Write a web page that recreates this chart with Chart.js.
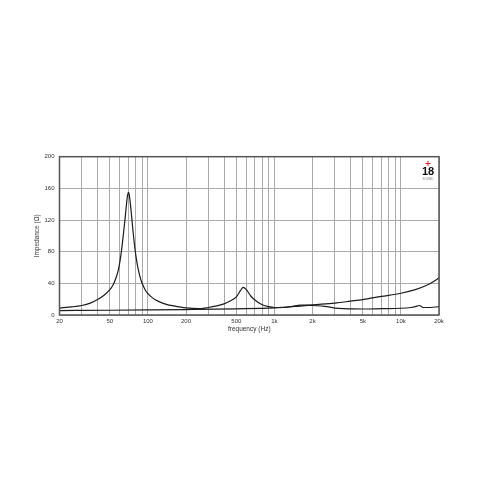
<!DOCTYPE html>
<html>
<head>
<meta charset="utf-8">
<style>
  html, body { margin: 0; padding: 0; background: #fff; }
  #wrap { width: 484px; height: 484px; }
</style>
<script src="https://cdn.jsdelivr.net/npm/chart.js@4/dist/chart.umd.min.js"></script>
</head>
<body>
<div id="wrap"><canvas id="c" width="484" height="484"></canvas></div>
<script>
// ---- data ----
const freqA = [20,25,30,35,40,45,50,53,56,58,60,62,64,66,68,69,70,71,72,74,76,78,80,83,86,89,95,100,110,120,140,160,200,250,300,350,400,450,500,540,566,600,650,700,800,900,1000,1200,1400,1600,1800,2000,2500,3000,3500,4000,5000,7000,10000,12000,13000,14000,15000,17000,20000];
const zA    = [8.8,10.2,12,15,19.5,25,32,38,47,55,67,83,102,122,143,151,155,153,146,128,108,91,77,61,50,42,32,27,21,17.5,13.5,11.5,9,8,9.5,11.5,14,18,23,31,35,32,24,19,13,10.5,9.5,9.5,11,12.5,12.5,12,11,8.8,8,7.8,7.6,8,8.5,9.5,10.5,12,9.5,9.5,10.5];
const freqB = [20,50,100,200,500,1000,1500,2000,3000,4000,5000,7000,10000,13000,16000,18000,20000];
const zB    = [5.6,6.0,6.4,6.9,7.8,9,11,12.8,15,17.5,19.5,23.5,27.5,32,37.5,42,47];
const gridFreqs = [20,30,40,50,60,70,80,90,100,200,300,400,500,600,700,800,900,1000,2000,3000,4000,5000,6000,7000,8000,9000,10000,20000];
const labelFreqs = {20:'20',50:'50',100:'100',200:'200',500:'500',1000:'1k',2000:'2k',5000:'5k',10000:'10k',20000:'20k'};
const yTicks = [0,40,80,120,160,200];

const ptsA = freqA.map((f,i)=>({x:f,y:zA[i]}));
const ptsB = freqB.map((f,i)=>({x:f,y:zB[i]}));

const FONT = '"Liberation Sans", Arial, sans-serif';

const frame = {
  id: 'frame',
  afterDraw(chart) {
    const {ctx, chartArea:a} = chart;
    ctx.save();
    ctx.strokeStyle = '#555';
    ctx.lineWidth = 1.5;
    ctx.strokeRect(a.left, a.top, a.right - a.left, a.bottom - a.top);
    // logo
    const cx = 428;
    ctx.fillStyle = '#d22';
    ctx.fillRect(cx - 2.5, 163, 5, 1);
    ctx.fillRect(cx - 0.5, 161, 1, 5);
    ctx.fillStyle = '#111';
    ctx.font = 'bold 11px "Liberation Sans Narrow", ' + FONT;
    ctx.textAlign = 'center';
    ctx.textBaseline = 'alphabetic';
    ctx.fillText('18', cx, 175);
    ctx.fillStyle = '#777';
    ctx.font = '3px ' + FONT;
    ctx.fillText('SOUND', cx, 179.5);
    ctx.restore();
  }
};

new Chart(document.getElementById('c'), {
  type: 'line',
  data: {
    datasets: [
      { data: ptsA, borderColor: '#1c1c1c', borderWidth: 1.2, pointRadius: 0, cubicInterpolationMode: 'monotone', fill: false },
      { data: ptsB, borderColor: '#1c1c1c', borderWidth: 1.2, pointRadius: 0, cubicInterpolationMode: 'monotone', fill: false }
    ]
  },
  options: {
    responsive: false,
    animation: false,
    devicePixelRatio: 1,
    layout: { padding: { left: 33.5, right: 45, top: 156.7, bottom: 150.5 } },
    plugins: { legend: { display: false }, tooltip: { enabled: false } },
    scales: {
      x: {
        type: 'logarithmic',
        min: 20, max: 20000,
        afterBuildTicks(scale) { scale.ticks = gridFreqs.map(v => ({ value: v })); },
        afterFit(scale) { scale.height = 18.5; },
        grid: { color: '#aaa', lineWidth: 1, drawTicks: false },
        border: { display: false },
        ticks: {
          autoSkip: false, maxRotation: 0, padding: 3,
          color: '#333', font: { family: FONT, size: 6 },
          callback(v) { return labelFreqs[v] !== undefined ? labelFreqs[v] : ''; }
        },
        title: { display: true, text: 'frequency (Hz)', color: '#333', font: { family: FONT, size: 6.5 }, padding: 0 }
      },
      y: {
        min: 0, max: 200,
        afterBuildTicks(scale) { scale.ticks = yTicks.map(v => ({ value: v })); },
        afterFit(scale) { scale.width = 26; },
        grid: { color: '#aaa', lineWidth: 1, drawTicks: false },
        border: { display: false },
        ticks: { padding: 5, color: '#333', font: { family: FONT, size: 6 } },
        title: { display: true, text: 'Impedance (Ω)', color: '#333', font: { family: FONT, size: 6.5 }, padding: 0 }
      }
    }
  },
  plugins: [frame]
});
</script>
</body>
</html>
